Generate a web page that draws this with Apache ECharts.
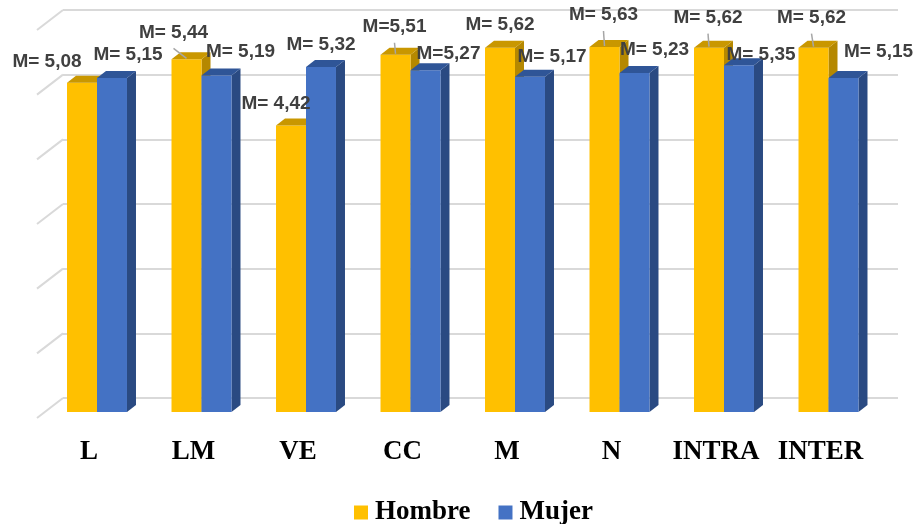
<!DOCTYPE html>
<html>
<head>
<meta charset="utf-8">
<script src="https://cdn.jsdelivr.net/npm/echarts@6/dist/echarts.min.js"></script>
<style>
  html, body { margin: 0; padding: 0; background: #ffffff; }
  #chart { width: 915px; height: 524px; }
</style>
</head>
<body>
<div id="chart"></div>
<script>
// Mean scores per dimension, by sex
const categories = ['L', 'LM', 'VE', 'CC', 'M', 'N', 'INTRA', 'INTER'];
const hombre = [5.08, 5.44, 4.42, 5.51, 5.62, 5.63, 5.62, 5.62];
const mujer = [5.15, 5.19, 5.32, 5.27, 5.17, 5.23, 5.35, 5.15];
const gridTicks = [0, 1, 2, 3, 4, 5, 6];
// dimensions whose label is written without a space after "M="
const compactLabelCats = ['CC'];

// label placement, in px, relative to the middle of each bar's top edge
const hombreLabelShift = [[-35, -21], [-13, -27], [-15, -22], [-1, -28], [0, -23], [-1, -32], [-1, -30], [-2, -30]];
const mujerLabelShift = [[16, -23], [24, -24], [0, -22], [23, -17], [22, -20], [20, -23], [22, -10], [35, -26]];

const DEPTH_X = 9, DEPTH_Y = -7;

function formatMean(cat, v) {
  const sep = compactLabelCats.includes(cat) ? 'M=' : 'M= ';
  return sep + v.toFixed(2).replace('.', ',');
}

// Draws one pseudo-3D column (front, side and top faces) plus its value label
function barRenderer(side, colors, shifts, withLeader) {
  return function (params, api) {
    const idx = params.dataIndex;
    const cat = api.value(0);
    const val = api.value(1);
    const top = api.coord([cat, val]);
    const base = api.coord([cat, 0]);
    const band = api.size([1, 0])[0];
    const w = band * 0.287;
    const x0 = side < 0 ? top[0] - w : top[0];
    const x1 = x0 + w;
    const yt = top[1], yb = base[1];
    const children = [
      { type: 'polygon', shape: { points: [[x1, yt], [x1 + DEPTH_X, yt + DEPTH_Y], [x1 + DEPTH_X, yb + DEPTH_Y], [x1, yb]] }, style: { fill: colors.side } },
      { type: 'rect', shape: { x: x0, y: yt, width: w, height: yb - yt }, style: { fill: colors.front } },
      { type: 'polygon', shape: { points: [[x0, yt], [x0 + DEPTH_X, yt + DEPTH_Y], [x1 + DEPTH_X, yt + DEPTH_Y], [x1, yt]] }, style: { fill: colors.top } }
    ];
    const cx = (x0 + x1) / 2;
    const sh = shifts[idx];
    const lx = cx + sh[0], ly = yt + sh[1];
    if (withLeader && yt - (ly + 16) > 8) {
      children.push({ type: 'line', z2: 100, shape: { x1: lx, y1: ly + 16, x2: cx, y2: yt - 1 }, style: { stroke: '#a6a6a6', lineWidth: 1.5 } });
    }
    children.push({
      type: 'text',
      z2: 100,
      style: {
        text: formatMean(categories[idx], val),
        x: lx, y: ly,
        align: 'center', verticalAlign: 'middle',
        fontFamily: '"Liberation Sans", Arial, sans-serif',
        fontWeight: 'bold', fontSize: 19,
        fill: '#404040'
      }
    });
    return { type: 'group', children: children };
  };
}

const chart = echarts.init(document.getElementById('chart'), null, { renderer: 'canvas' });

chart.setOption({
  animation: false,
  backgroundColor: '#ffffff',
  grid: [
    { left: 44.75, right: 34.25, top: 23, bottom: 112 },
    { left: 63, right: 17, top: 10, bottom: 126 }
  ],
  xAxis: [
    {
      gridIndex: 0, type: 'category', data: categories,
      axisLine: { show: false }, axisTick: { show: false },
      axisLabel: {
        interval: 0, hideOverlap: false,
        margin: 27, color: '#000000', padding: [0, 16, 0, 0],
        fontFamily: '"Liberation Serif", "Times New Roman", serif',
        fontWeight: 'bold', fontSize: 27
      }
    },
    { gridIndex: 1, type: 'value', min: 0, max: 1, show: false }
  ],
  yAxis: [
    { gridIndex: 0, type: 'value', min: 0, max: 6, show: false },
    {
      gridIndex: 1, type: 'value', min: 0, max: 6, interval: 1,
      axisLine: { show: false }, axisTick: { show: false }, axisLabel: { show: false },
      splitLine: { show: true, lineStyle: { color: '#d9d9d9', width: 2 } }
    }
  ],
  legend: {
    data: ['Hombre', 'Mujer'],
    left: 349, top: 494,
    icon: 'rect', itemWidth: 14, itemHeight: 14, itemGap: 28,
    textStyle: {
      color: '#000000',
      fontFamily: '"Liberation Serif", "Times New Roman", serif',
      fontWeight: 'bold', fontSize: 27, padding: [0, 0, 0, 2]
    }
  },
  series: [
    {
      // receding floor/wall edges of the gridlines
      type: 'custom', xAxisIndex: 1, yAxisIndex: 1, silent: true, z: 1,
      data: gridTicks.map(function (v) { return [0, v]; }),
      renderItem: function (params, api) {
        const p = api.coord([api.value(0), api.value(1)]);
        return { type: 'line', shape: { x1: p[0] - 26, y1: p[1] + 20, x2: p[0], y2: p[1] }, style: { stroke: '#d9d9d9', lineWidth: 2 } };
      }
    },
    {
      name: 'Hombre', type: 'custom', xAxisIndex: 0, yAxisIndex: 0,
      itemStyle: { color: '#FFC000' },
      encode: { x: 0, y: 1 },
      data: hombre.map(function (v, i) { return [i, v]; }),
      renderItem: barRenderer(-1, { front: '#FFC000', top: '#C99700', side: '#B58800' }, hombreLabelShift, true)
    },
    {
      name: 'Mujer', type: 'custom', xAxisIndex: 0, yAxisIndex: 0,
      itemStyle: { color: '#4472C4' },
      encode: { x: 0, y: 1 },
      data: mujer.map(function (v, i) { return [i, v]; }),
      renderItem: barRenderer(1, { front: '#4472C4', top: '#2F5597', side: '#2A4A82' }, mujerLabelShift, false)
    }
  ]
});
</script>
</body>
</html>
